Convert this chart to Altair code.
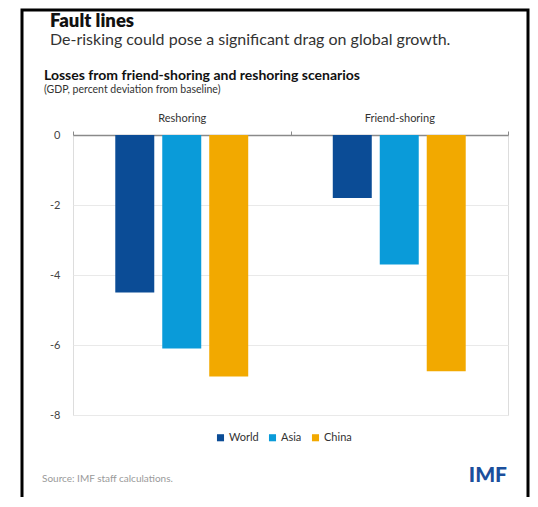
import altair as alt
import pandas as pd

scenarios = ["Reshoring", "Friend-shoring"]
regions = ["World", "Asia", "China"]
reshoring_vals = [-4.5, -6.1, -6.9]
friendshoring_vals = [-1.8, -3.7, -6.75]
colors = ["#0b4c96", "#0a9bd9", "#f2a900"]
y_ticks = [0, -2, -4, -6, -8]

title_text = ["Fault lines"]
subtitle_text = ["De-risking could pose a significant drag on global growth."]
chart_title_text = ["Losses from friend-shoring and reshoring scenarios"]
chart_subtitle_text = ["(GDP, percent deviation from baseline)"]
source_text = ["Source: IMF staff calculations."]
logo_text = ["IMF"]

rows = []
for s, vals in zip(scenarios, [reshoring_vals, friendshoring_vals]):
    for r, v in zip(regions, vals):
        rows.append({"scenario": s, "region": r, "value": v})
df = pd.DataFrame(rows)

FONT = "Lato"

bars = alt.Chart(df).mark_bar().encode(
    x=alt.X("scenario:N", sort=scenarios,
            scale=alt.Scale(paddingInner=0, paddingOuter=0),
            axis=alt.Axis(orient="top", title=None, labelAngle=0,
                          domainColor="#8a8a8a", domainWidth=1.5,
                          ticks=True, tickBand="extent", tickSize=4,
                          tickColor="#8a8a8a", tickWidth=1,
                          labelPadding=8, labelFontSize=11,
                          labelColor="#333333", labelFont=FONT)),
    xOffset=alt.XOffset("region:N", sort=regions,
                        scale=alt.Scale(paddingInner=0.17, paddingOuter=0.9)),
    y=alt.Y("value:Q", scale=alt.Scale(domain=[-8, 0], nice=False),
            axis=alt.Axis(values=y_ticks, title=None, grid=True,
                          gridColor="#e9e9e9", gridWidth=1,
                          domain=False, ticks=False, labelPadding=13,
                          labelFontSize=11, labelColor="#444444",
                          labelFont=FONT, labelExpr="'' + datum.value")),
    color=alt.Color("region:N", sort=regions,
                    scale=alt.Scale(domain=regions, range=colors),
                    legend=alt.Legend(title=None, orient="none",
                                      direction="horizontal",
                                      legendX=142, legendY=297,
                                      symbolType="square", symbolSize=50,
                                      symbolStrokeWidth=0,
                                      labelFontSize=11, labelColor="#333333",
                                      labelFont=FONT, columnPadding=8,
                                      labelOffset=3)),
)


def text_layer(txt, x, y, size, weight="normal", color="#222222", align="left"):
    return alt.Chart(pd.DataFrame({"t": txt})).mark_text(
        align=align, baseline="alphabetic", fontSize=size, fontWeight=weight,
        color=color, font=FONT
    ).encode(text="t:N", x=alt.value(x), y=alt.value(y))


frame = alt.Chart(pd.DataFrame({"a": [0]})).mark_rect(
    fill="white", fillOpacity=0, stroke="black", strokeWidth=3
).encode(x=alt.value(-51), x2=alt.value(455), y=alt.value(-125), y2=alt.value(380))

chart = alt.layer(
    frame,
    bars,
    text_layer(title_text, -23, -108, 18.5, 800, "#111111"),
    text_layer(subtitle_text, -23, -90, 16, "normal", "#333333"),
    text_layer(chart_title_text, -29, -55, 14, "bold", "#111111"),
    text_layer(chart_subtitle_text, -29, -42, 10.5, "normal", "#333333"),
    text_layer(source_text, -31, 347, 10, "normal", "#9a9a9a"),
    text_layer(logo_text, 434, 347, 21, 900, "#1b4f9c", "right"),
).properties(
    width=435, height=280,
    padding={"left": 65, "top": 127, "right": 22, "bottom": 82},
    autosize=alt.AutoSizeParams(type="none"),
).configure_view(stroke=None).configure(background="white")

chart.save("out.html", embed_options={"renderer": "svg", "actions": False})
